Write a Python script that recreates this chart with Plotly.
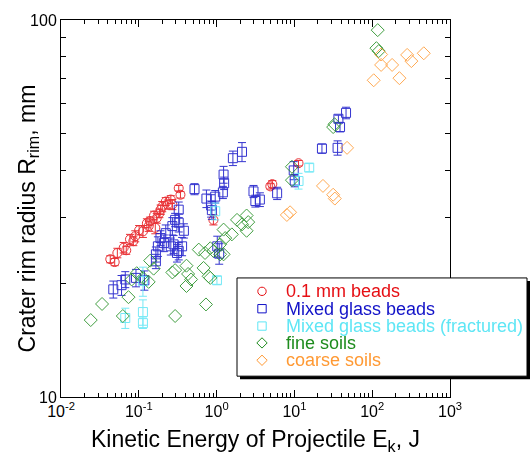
import plotly.graph_objects as go

# ---------------- data ----------------
red_x = [0.043, 0.049, 0.053, 0.064, 0.069, 0.077, 0.085, 0.090, 0.101, 0.113,
         0.127, 0.134, 0.139, 0.157, 0.163, 0.170, 0.184, 0.191, 0.200, 0.222,
         0.236, 0.258, 0.270, 0.326, 0.343, 0.91, 4.9, 5.2, 11.3]
red_y = [23.2, 22.8, 24.1, 24.9, 24.5, 26.2, 25.9, 26.7, 27.7, 27.5,
         28.9, 28.4, 29.3, 30.3, 28.1, 29.8, 30.7, 31.4, 32.0, 33.0,
         32.4, 33.4, 32.4, 35.8, 34.4, 29.5, 36.2, 36.7, 41.7]
red_err = [0.5, 0.5, 0.7, 0.8, 0.6, 0.8, 0.7, 0.9, 0.8, 1.0,
           0.8, 0.9, 0.7, 0.8, 1.0, 0.9, 0.8, 0.9, 1.0, 0.8,
           0.9, 0.8, 1.0, 0.6, 0.7, 0.9, 0.6, 0.8, 0.7]

blue_x = [0.047, 0.060, 0.067, 0.092, 0.118, 0.166, 0.166, 0.176, 0.190, 0.210,
          0.222, 0.258, 0.270, 0.280, 0.293, 0.310, 0.326, 0.326, 0.326, 0.360,
          0.380, 0.52, 0.74, 0.85, 0.87, 0.96, 1.02, 1.08, 1.205, 1.23,
          1.25, 1.62, 2.12, 2.98, 3.15, 3.6, 6.0, 9.8, 10.1, 22.6,
          35.9, 36.8, 38.6, 46.1]
blue_y = [19.3, 19.8, 20.5, 20.7, 20.4, 22.9, 23.9, 25.1, 26.4, 25.6,
          27.2, 25.1, 28.4, 25.4, 29.5, 24.1, 31.4, 29.0, 24.4, 25.1,
          27.6, 35.6, 33.6, 32.2, 31.3, 34.0, 25.1, 24.0, 34.9, 38.9,
          36.9, 43.0, 44.7, 35.1, 33.1, 33.4, 34.7, 39.9, 37.5, 45.6,
          45.8, 54.7, 52.0, 56.7]
blue_err = [1.0, 1.2, 1.0, 1.1, 1.2, 1.0, 1.1, 1.5, 1.2, 1.3,
            1.4, 1.3, 1.5, 1.4, 1.2, 1.3, 1.5, 1.6, 1.3, 1.4,
            1.2, 1.2, 1.8, 2.2, 1.7, 1.3, 1.6, 1.5, 1.3, 2.0,
            1.4, 1.9, 2.6, 1.3, 1.2, 1.4, 1.3, 2.2, 1.4, 1.3,
            2.0, 1.2, 1.5, 2.0]

cyan_x = [0.067, 0.113, 0.113, 0.113, 0.96, 1.01, 11.3, 15.5]
cyan_y = [16.2, 16.8, 15.7, 20.3, 31.1, 20.4, 37.4, 40.6]
cyan_err = [1.0, 1.3, 0.5, 1.8, 1.6, 0.5, 1.8, 1.0]

green_x = [0.0241, 0.0337, 0.0623, 0.0737, 0.081, 0.094, 0.113, 0.134, 0.14, 0.155,
           0.27, 0.293, 0.293, 0.41, 0.43, 0.47, 0.41, 0.59, 0.68, 0.71,
           0.73, 0.79, 0.83, 0.83, 0.91, 1.11, 1.23, 1.11, 1.29, 1.23,
           1.57, 1.83, 2.12, 2.43, 2.43, 2.55, 9.3, 9.3, 31.5, 32.8,
           113.3, 117.7, 121.3]
green_y = [16.0, 17.65, 16.4, 18.4, 20.5, 21.3, 20.7, 20.2, 23.0, 21.9,
           21.4, 21.7, 16.4, 22.3, 21.2, 20.5, 19.7, 24.6, 22.0, 24.1,
           17.6, 20.9, 20.7, 24.8, 24.4, 23.9, 23.9, 25.4, 26.4, 27.8,
           27.0, 29.5, 28.7, 30.3, 27.6, 29.1, 40.8, 37.6, 52.0, 52.9,
           84.2, 94.0, 82.7]

orange_x = [8.0, 8.8, 23.3, 31.5, 33.1, 47.5, 104.5, 130.2, 130.2, 180.3,
            223.9, 281.3, 319.0, 460.0]
orange_y = [30.4, 30.9, 36.3, 34.4, 33.6, 45.8, 69.2, 76.0, 81.0, 76.0,
            70.1, 80.8, 77.8, 81.6]

legend_labels = ["0.1 mm beads", "Mixed glass beads", "Mixed glass beads (fractured)",
                 "fine soils", "coarse soils"]
x_tick_vals = [0.01, 0.1, 1, 10, 100, 1000]
x_tick_text = ["10<sup>-2</sup>", "10<sup>-1</sup>", "10<sup>0</sup>",
               "10<sup>1</sup>", "10<sup>2</sup>", "10<sup>3</sup>"]
y_tick_vals = [10, 100]
y_tick_text = ["10", "100"]

# ---------------- styling ----------------
RED, BLUE, CYAN, GREEN, ORANGE = "#e60f14", "#1212c8", "#5ee6f5", "#1e8c1e", "#ff9933"
FONT = "Liberation Sans, Arial, Helvetica, sans-serif"
W, H = 531, 459
L, R, T, B = 61, 450, 17, 397  # plot area in pixels


def pxx(x):
    return (x - L) / (R - L)


def pxy(y):
    return (B - y) / (B - T)


fig = go.Figure()


def add(xs, ys, errs, color, symbol, size):
    err = dict(type="data", array=errs, visible=True, color=color,
               thickness=1, width=4) if errs is not None else dict(visible=False)
    fig.add_trace(go.Scatter(
        x=xs, y=ys, mode="markers", showlegend=False, opacity=0.85,
        marker=dict(symbol=symbol, size=size, color=color,
                    line=dict(color=color, width=1)),
        error_y=err))


add(red_x, red_y, red_err, RED, "circle-open", 9)
add(blue_x, blue_y, blue_err, BLUE, "square-open", 9)
add(cyan_x, cyan_y, cyan_err, CYAN, "square-open", 9)
add(green_x, green_y, None, GREEN, "diamond-open", 10)
add(orange_x, orange_y, None, ORANGE, "diamond-open", 10)

minor_x = [m * 10.0 ** e for e in range(-2, 3) for m in range(2, 10)]
minor_y = [m * 10.0 for m in range(2, 10)]

axis_common = dict(type="log", showline=True, linecolor="black", linewidth=1,
                   mirror="allticks", ticks="inside", tickcolor="black",
                   showgrid=False, zeroline=False,
                   tickfont=dict(family=FONT, size=16, color="black"))

fig.update_xaxes(**axis_common, range=[-2, 3], tickmode="array",
                 tickvals=x_tick_vals, ticktext=x_tick_text, ticklen=7,
                 minor=dict(tickmode="array", tickvals=minor_x, ticks="inside",
                            ticklen=4, tickcolor="black", showgrid=False))
fig.update_yaxes(**axis_common, range=[1, 2], tickmode="array",
                 tickvals=y_tick_vals, ticktext=y_tick_text, ticklen=7,
                 minor=dict(tickmode="array", tickvals=minor_y, ticks="inside",
                            ticklen=5, tickcolor="black", showgrid=False))

# ---------------- legend (drawn box with shadow) ----------------
shapes = []
bx0, bx1, by0, by1 = 237, 527, 277, 376
shapes.append(dict(type="rect", xref="paper", yref="paper", layer="above",
                   x0=pxx(bx0 + 3), x1=pxx(bx1 + 3), y0=pxy(by1 + 3), y1=pxy(by0 + 3),
                   fillcolor="black", line=dict(width=0)))
shapes.append(dict(type="rect", xref="paper", yref="paper", layer="above",
                   x0=pxx(bx0), x1=pxx(bx1), y0=pxy(by1), y1=pxy(by0),
                   fillcolor="white", line=dict(color="black", width=1)))

rows = [290.5, 308, 325.5, 342.5, 360]
colors = [RED, BLUE, CYAN, GREEN, ORANGE]
sym_x = 262
hs = 4.2
for i, (yy, c) in enumerate(zip(rows, colors)):
    if i == 0:
        shapes.append(dict(type="circle", xref="paper", yref="paper", layer="above",
                           x0=pxx(sym_x - hs), x1=pxx(sym_x + hs),
                           y0=pxy(yy + hs), y1=pxy(yy - hs),
                           line=dict(color=c, width=1)))
    elif i in (1, 2):
        shapes.append(dict(type="rect", xref="paper", yref="paper", layer="above",
                           x0=pxx(sym_x - hs), x1=pxx(sym_x + hs),
                           y0=pxy(yy + hs), y1=pxy(yy - hs),
                           line=dict(color=c, width=1)))
    else:
        d = hs + 1
        path = "M {},{} L {},{} L {},{} L {},{} Z".format(
            pxx(sym_x - d), pxy(yy), pxx(sym_x), pxy(yy - d),
            pxx(sym_x + d), pxy(yy), pxx(sym_x), pxy(yy + d))
        shapes.append(dict(type="path", xref="paper", yref="paper", layer="above",
                           path=path, line=dict(color=c, width=1)))

annotations = []
for yy, c, lab in zip(rows, colors, legend_labels):
    annotations.append(dict(xref="paper", yref="paper", x=pxx(284), y=pxy(yy),
                            xanchor="left", yanchor="middle", showarrow=False,
                            text=lab, font=dict(family=FONT, size=18, color=c)))

# axis titles
annotations.append(dict(xref="paper", yref="paper", x=pxx(255.5), y=pxy(441),
                        xanchor="center", yanchor="middle", showarrow=False,
                        text="Kinetic Energy of Projectile E<sub>k</sub>, J",
                        font=dict(family=FONT, size=23, color="black")))
annotations.append(dict(xref="paper", yref="paper", x=pxx(28), y=pxy(217),
                        xanchor="center", yanchor="middle", showarrow=False,
                        textangle=-90,
                        text="Crater rim radius R<sub>rim</sub>, mm",
                        font=dict(family=FONT, size=23, color="black")))

fig.update_layout(width=W, height=H, autosize=False,
                  margin=dict(l=L, r=W - R, t=T, b=H - B, pad=0),
                  paper_bgcolor="white", plot_bgcolor="white",
                  font=dict(family=FONT, color="black"),
                  shapes=shapes, annotations=annotations, showlegend=False)

fig.write_html("out.html")
